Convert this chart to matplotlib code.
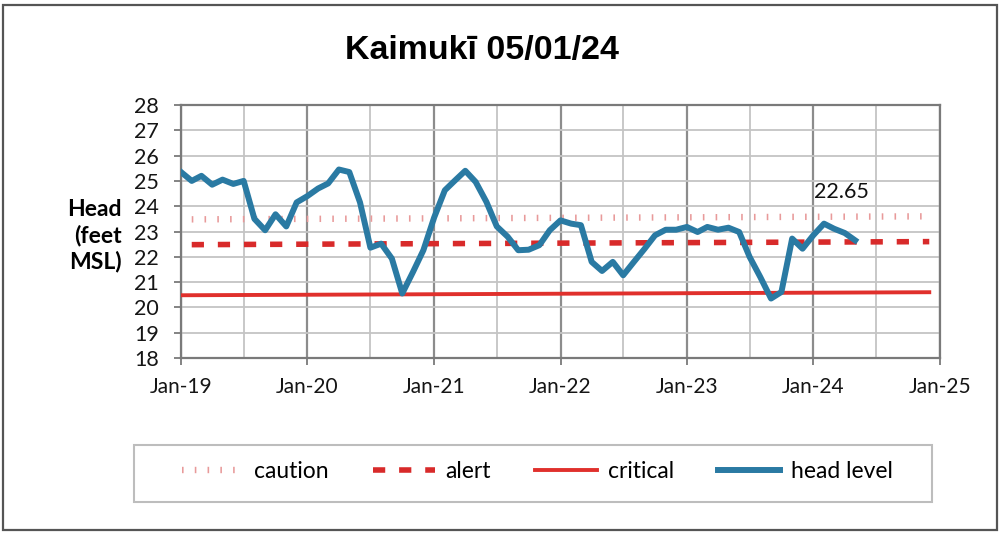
import numpy as np
import pandas as pd
import matplotlib.pyplot as plt
import matplotlib.dates as mdates
from matplotlib.patches import Rectangle

# monthly head level readings (feet MSL), Jan-19 through May-24
start_month = "2019-01-01"
head = [25.35, 25.0, 25.2, 24.85, 25.05, 24.88, 25.0, 23.5, 23.05, 23.68, 23.2, 24.15,
        24.4, 24.7, 24.9, 25.45, 25.35, 24.15, 22.36, 22.52, 21.93, 20.55, 21.4, 22.26,
        23.55, 24.63, 25.0, 25.4, 24.96, 24.17, 23.2, 22.8, 22.26, 22.28, 22.46, 23.05,
        23.44, 23.31, 23.25, 21.8, 21.44, 21.8, 21.27, 21.8, 22.32, 22.85, 23.07, 23.07,
        23.18, 22.98, 23.18, 23.07, 23.15, 22.98, 22.0, 21.2, 20.35, 20.61, 22.72, 22.32,
        22.85, 23.31, 23.11, 22.94, 22.65]

# threshold lines (start, end)
caution_dates = ["2019-02-01", "2024-12-01"]
caution = [23.48, 23.6]
alert_dates = ["2019-02-01", "2024-12-01"]
alert = [22.48, 22.6]
critical_dates = ["2019-01-01", "2024-12-01"]
critical = [20.48, 20.6]

labels = ["caution", "alert", "critical", "head level"]
title = "Kaimukī 05/01/24"
ylabel = "Head\n(feet\nMSL)"
xlim = ["2019-01-01", "2025-01-01"]
ylim = (18, 28)

W, H = 1001, 533


def main():
    """
    Draws the head level chart and saves it to out.png.
    """
    plt.rcParams["font.family"] = ["Lato", "DejaVu Sans"]
    fig = plt.figure(figsize=(W / 100, H / 100), dpi=100)
    ax = fig.add_axes([181 / W, 1 - 358 / H, (940 - 181) / W, (358 - 105) / H])

    dates = pd.date_range(start_month, periods=len(head), freq="MS")

    # threshold lines:
    ax.plot(pd.to_datetime(caution_dates), caution, color="#e89a9a", lw=4.6,
            dashes=(0.25, 1.75), label=labels[0], zorder=3)
    ax.plot(pd.to_datetime(alert_dates), alert, color="#d82a2a", lw=4.0,
            dashes=(2.2, 2.5), label=labels[1], zorder=3)
    ax.plot(pd.to_datetime(critical_dates), critical, color="#e0302c", lw=2.8,
            label=labels[2], zorder=3)
    ax.plot(dates, head, color="#2a7aa3", lw=4.3, solid_joinstyle="round",
            label=labels[3], zorder=4)

    # last value label
    ax.annotate(f"{head[-1]:.2f}", xy=(dates[-1], head[-1]), xytext=(-10, 35),
                textcoords="offset points", ha="center", va="center", fontsize=15.5,
                color="#111111")

    ax.set_xlim(pd.to_datetime(xlim[0]), pd.to_datetime(xlim[1]))
    ax.set_ylim(*ylim)
    ax.set_yticks(np.arange(ylim[0], ylim[1] + 1, 1))
    ax.xaxis.set_major_locator(mdates.YearLocator())
    ax.xaxis.set_minor_locator(mdates.MonthLocator(bymonth=7))
    ax.xaxis.set_major_formatter(mdates.DateFormatter("%b-%y"))

    # grid:
    ax.grid(axis="y", color="#c4c4c4", lw=1.3)
    ax.grid(axis="x", which="major", color="#8c8c8c", lw=1.6)
    ax.grid(axis="x", which="minor", color="#c4c4c4", lw=1.3)
    ax.set_axisbelow(True)
    for s in ax.spines.values():
        s.set_color("#7a7a7a")
        s.set_linewidth(1.6)

    ax.tick_params(axis="y", length=5, width=1.3, color="#7a7a7a", pad=11,
                   labelsize=15.5, labelcolor="#151515")
    ax.tick_params(axis="x", which="major", length=5, width=1.3, color="#7a7a7a",
                   pad=9, labelsize=15, labelcolor="#151515")
    ax.tick_params(axis="x", which="minor", length=0)

    # title and y label as figure text
    fig.text(482 / W, 1 - 50 / H, title, ha="center", va="center", fontsize=24.5,
             fontweight="bold", family=["Liberation Sans", "DejaVu Sans"])
    fig.text(122 / W, 1 - 236 / H, ylabel, ha="right", va="center", fontsize=16.5,
             fontweight="bold", linespacing=1.25, multialignment="right")

    # legend with separate box
    fig.patches.append(Rectangle((134 / W, 1 - 502 / H), (932 - 134) / W, 57 / H,
                                 transform=fig.transFigure, fill=False,
                                 edgecolor="#bdbdbd", lw=1.5))
    fig.legend(loc="center", bbox_to_anchor=(537 / W, 1 - 472 / H), ncol=4,
               frameon=False, fontsize=16.5, handlelength=2.7, handletextpad=0.45,
               columnspacing=1.95)

    # outer border
    fig.patches.append(Rectangle((3 / W, 3 / H), 994 / W, 525 / H,
                                 transform=fig.transFigure, fill=False,
                                 edgecolor="#555555", lw=1.6))

    fig.savefig("out.png", dpi=100, facecolor="white")


if __name__ == '__main__':
    main()
